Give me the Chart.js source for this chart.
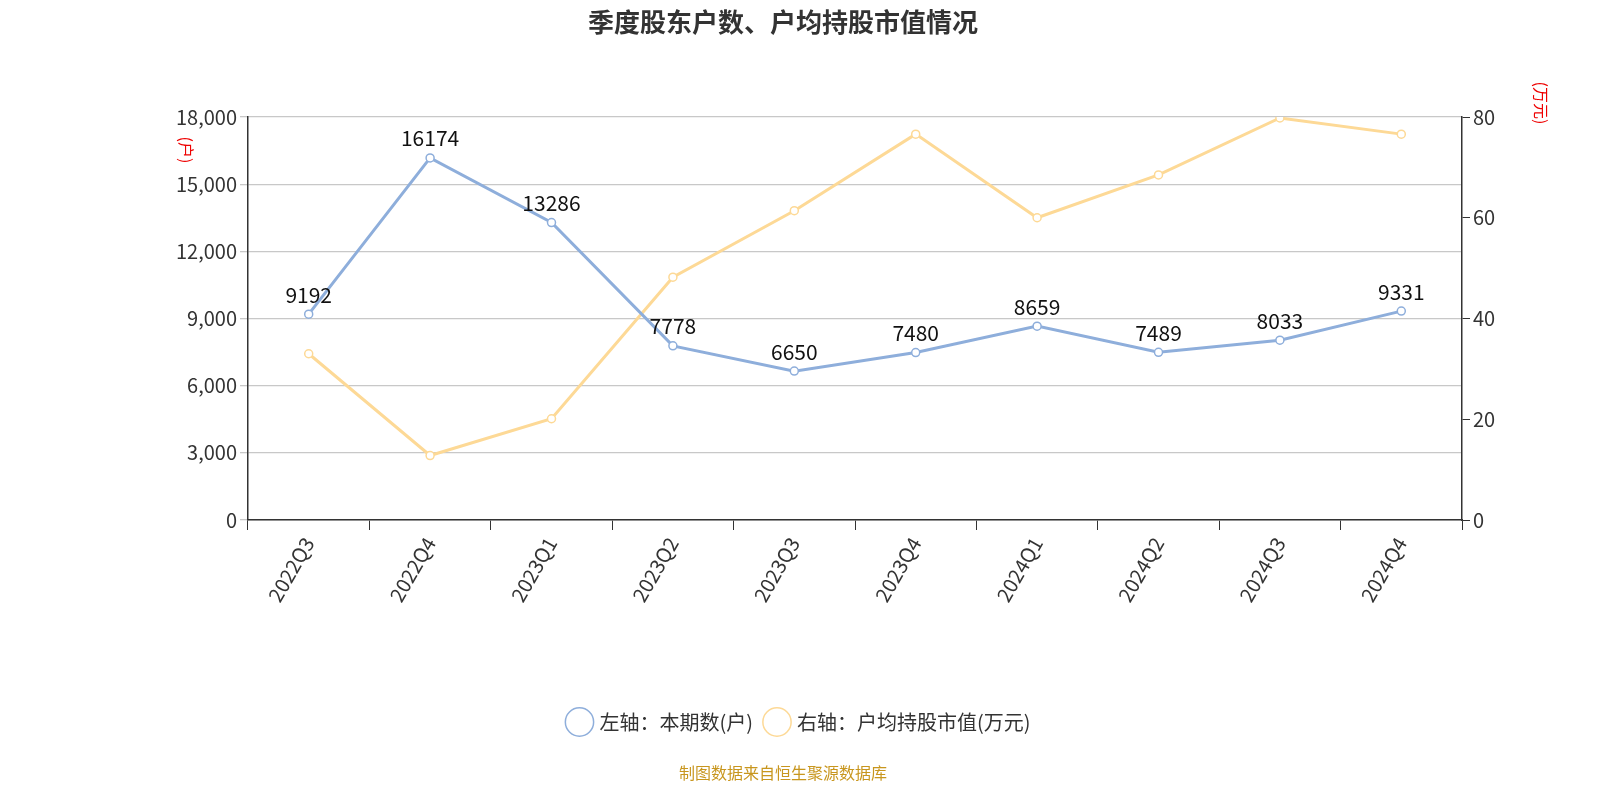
<!DOCTYPE html>
<html><head><meta charset="utf-8">
<script src="https://cdn.jsdelivr.net/npm/chart.js@4/dist/chart.umd.min.js"></script>
<style>html,body{margin:0;background:#fff;overflow:hidden}#wrap{width:1600px;height:800px}canvas{display:block}</style>
</head><body><div id="wrap"><canvas id="c"></canvas></div>
<script>
const quarters = ['2022Q3','2022Q4','2023Q1','2023Q2','2023Q3','2023Q4','2024Q1','2024Q2','2024Q3','2024Q4'];
const holders = [9192, 16174, 13286, 7778, 6650, 7480, 8659, 7489, 8033, 9331];
const avgValue = [33.0, 12.8, 20.1, 48.2, 61.4, 76.6, 60.0, 68.5, 79.8, 76.6];
const leftTicks = [0, 3000, 6000, 9000, 12000, 15000, 18000];
const rightTicks = [0, 20, 40, 60, 80];

const FONT = '"Noto Sans CJK SC", "Noto Sans", sans-serif';

const extras = {
    id: 'extras',
    afterDraw(chart) {
        const c = chart.ctx;
        c.save();
        c.fillStyle = '#333';
        c.font = 'bold 26px ' + FONT;
        c.textAlign = 'center';
        c.textBaseline = 'middle';
        c.fillText('季度股东户数、户均持股市值情况', 783, 22);
        c.fillStyle = '#c8961e';
        c.font = '16px ' + FONT;
        c.fillText('制图数据来自恒生聚源数据库', 783, 773);
        // data labels
        const meta = chart.getDatasetMeta(0);
        c.fillStyle = '#111';
        c.font = '21px ' + FONT;
        c.textBaseline = 'bottom';
        meta.data.forEach((p, i) => c.fillText(String(holders[i]), p.x, p.y - 9));
        // axis unit labels
        c.fillStyle = '#e00';
        c.font = '16px ' + FONT;
        c.textBaseline = 'middle';
        c.translate(186, 150); c.rotate(Math.PI / 2); c.fillText('(户)', 0, 0);
        c.setTransform(1, 0, 0, 1, 0, 0);
        c.scale(chart.currentDevicePixelRatio, chart.currentDevicePixelRatio);
        c.translate(1541, 103); c.rotate(Math.PI / 2); c.fillText('(万元)', 0, 0);
        c.restore();
    }
};

new Chart(document.getElementById('c'), {
    type: 'line',
    data: {
        labels: quarters,
        datasets: [{
            label: '左轴：本期数(户)',
            data: holders,
            yAxisID: 'y',
            borderColor: '#8eaedb',
            backgroundColor: '#fff',
            borderWidth: 3,
            pointRadius: 4,
            pointBorderWidth: 1.5,
            tension: 0
        }, {
            label: '右轴：户均持股市值(万元)',
            data: avgValue,
            yAxisID: 'y1',
            borderColor: '#fdd996',
            backgroundColor: '#fff',
            borderWidth: 3,
            pointRadius: 4,
            pointBorderWidth: 1.5,
            tension: 0
        }]
    },
    options: {
        responsive: true,
        maintainAspectRatio: false,
        animation: false,
        layout: { padding: { top: 117, bottom: 58, left: 0, right: 0 } },
        plugins: {
            title: { display: false },
            tooltip: { enabled: false },
            legend: {
                position: 'bottom',
                labels: {
                    font: { size: 20, family: FONT },
                    color: '#333',
                    usePointStyle: true,
                    pointStyle: 'circle',
                    boxWidth: 22,
                    boxHeight: 22,
                    padding: 14
                }
            }
        },
        scales: {
            x: {
                offset: true,
                grid: { display: true, drawOnChartArea: false, color: '#333', tickLength: 10, offset: true },
                border: { color: '#333', width: 1.5 },
                ticks: { font: { size: 20, family: FONT }, color: '#333', maxRotation: 60, minRotation: 60 },
                afterFit(s) { s.height = 178; }
            },
            y: {
                position: 'left',
                min: 0, max: 18000,
                afterBuildTicks(s) { s.ticks = leftTicks.map(v => ({ value: v })); },
                grid: { color: '#c8c8c8', lineWidth: 1.3, tickLength: 8 },
                border: { color: '#333', width: 1.5 },
                ticks: { font: { size: 20, family: FONT }, color: '#333',
                    callback: v => v.toLocaleString('en-US') },
                afterFit(s) { s.width = 248; }
            },
            y1: {
                position: 'right',
                min: 0, max: 80,
                afterBuildTicks(s) { s.ticks = rightTicks.map(v => ({ value: v })); },
                grid: { drawOnChartArea: false, color: '#333', tickLength: 8 },
                border: { color: '#333', width: 1.5 },
                ticks: { font: { size: 20, family: FONT }, color: '#333' },
                afterFit(s) { s.width = 138; }
            }
        }
    },
    plugins: [extras]
});
</script>
</body></html>
